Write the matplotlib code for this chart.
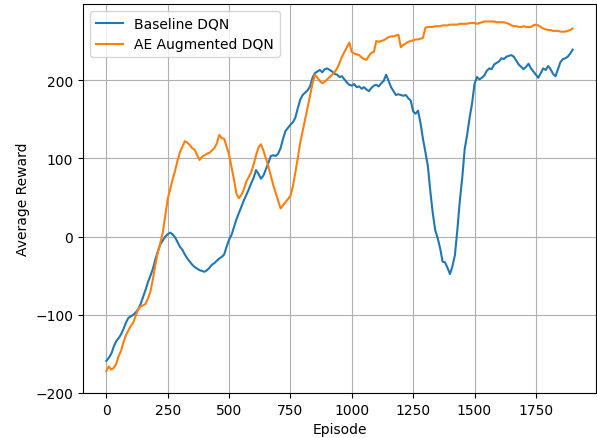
import numpy as np
import matplotlib
matplotlib.use("Agg")
import matplotlib.pyplot as plt

# episodes sampled every 10
episodes = np.arange(0, 1901, 10)

baseline_dqn = [
    -159, -155, -150, -141, -134, -130, -125, -118, -110, -104,
    -102, -100, -97, -93, -86, -77, -68, -58, -50, -41,
    -29, -19, -10, -5, 0, 3, 5, 3, -1, -7,
    -13, -17, -23, -28, -32, -36, -39, -41, -43, -44,
    -45, -43, -40, -36, -34, -31, -28, -26, -23, -13,
    -4, 2, 12, 22, 30, 38, 46, 53, 60, 68,
    75, 85, 80, 74, 78, 86, 94, 103, 104, 103,
    106, 113, 125, 135, 139, 143, 146, 152, 164, 175,
    181, 184, 187, 192, 203, 209, 211, 213, 210, 214,
    215, 213, 211, 208, 207, 204, 205, 201, 197, 194,
    193, 195, 191, 192, 189, 191, 188, 186, 190, 193,
    194, 192, 196, 199, 207, 199, 191, 186, 181, 182,
    181, 180, 181, 177, 174, 160, 157, 161, 145, 125,
    108, 90, 58, 30, 8, -2, -15, -32, -33, -40,
    -48, -38, -24, 8, 45, 75, 112, 130, 152, 170,
    195, 204, 201, 203, 206, 212, 215, 214, 220, 222,
    224, 228, 227, 230, 231, 232, 230, 225, 220, 217,
    214, 217, 221, 215, 211, 207, 203, 209, 215, 213,
    218, 214, 208, 205, 214, 223, 227, 228, 230, 234,
    239,
]

ae_augmented_dqn = [
    -172, -166, -170, -168, -163, -153, -146, -135, -126, -120,
    -114, -110, -101, -93, -89, -88, -86, -79, -70, -54,
    -36, -20, -8, 5, 27, 48, 60, 73, 84, 97,
    108, 115, 122, 120, 117, 113, 111, 104, 98, 102,
    104, 106, 107, 110, 113, 119, 130, 126, 125, 115,
    105, 89, 73, 55, 49, 53, 60, 70, 76, 82,
    92, 104, 114, 118, 110, 100, 90, 78, 66, 56,
    46, 36, 40, 44, 48, 52, 64, 82, 100, 120,
    135, 150, 165, 180, 196, 207, 203, 199, 196, 198,
    201, 204, 207, 210, 215, 222, 230, 236, 242, 248,
    236, 234, 233, 232, 229, 227, 226, 231, 235, 236,
    250, 249, 250, 251, 253, 255, 256, 256, 257, 258,
    242, 245, 247, 249, 250, 251, 252, 252, 253, 254,
    267, 268, 268, 268, 269, 269, 269, 270, 270, 270,
    271, 271, 271, 271, 272, 272, 272, 272, 273, 273,
    273, 272, 273, 274, 275, 275, 275, 275, 275, 274,
    274, 274, 274, 273, 272, 270, 269, 269, 268, 268,
    269, 268, 268, 268, 270, 271, 270, 268, 266, 265,
    264, 264, 263, 263, 263, 262, 262, 262, 263, 264,
    266,
]

fig = plt.figure(figsize=(5.97, 4.39), dpi=100)
ax = fig.add_axes([83 / 597, 45 / 439, 513 / 597, 389 / 439])
ax.plot(episodes, baseline_dqn, label="Baseline DQN")
ax.plot(episodes, ae_augmented_dqn, label="AE Augmented DQN")
ax.set_xlabel("Episode")
ax.set_ylabel("Average Reward")
ax.set_xticks([0, 250, 500, 750, 1000, 1250, 1500, 1750])
ax.set_yticks([-200, -100, 0, 100, 200])
ax.legend(loc="upper left")
ax.grid(True)

fig.savefig("out.png", dpi=100)
plt.close(fig)
